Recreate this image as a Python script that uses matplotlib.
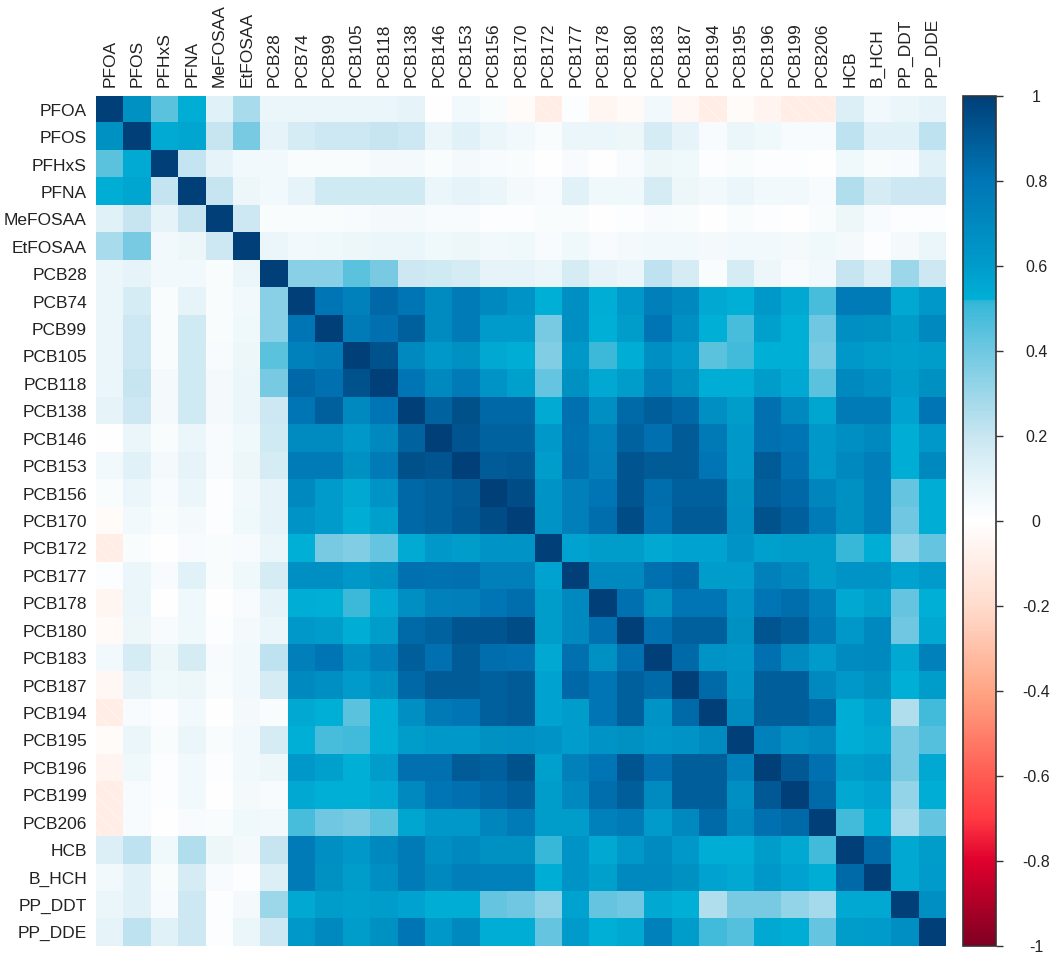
import numpy as np
import matplotlib
matplotlib.use('Agg')
import matplotlib.pyplot as plt
from matplotlib.colors import LinearSegmentedColormap
from matplotlib.patches import Rectangle

plt.rcParams['font.family'] = ['Liberation Sans', 'DejaVu Sans']
plt.rcParams['hatch.linewidth'] = 0.5

labels = ['PFOA', 'PFOS', 'PFHxS', 'PFNA', 'MeFOSAA', 'EtFOSAA', 'PCB28', 'PCB74', 'PCB99',
          'PCB105', 'PCB118', 'PCB138', 'PCB146', 'PCB153', 'PCB156', 'PCB170', 'PCB172',
          'PCB177', 'PCB178', 'PCB180', 'PCB183', 'PCB187', 'PCB194', 'PCB195', 'PCB196',
          'PCB199', 'PCB206', 'HCB', 'B_HCH', 'PP_DDT', 'PP_DDE']

# upper triangle, one row per compound (diagonal left out)
pfoa = [.66, .44, .53, .12, .27, .08, .08, .08, .08, .08, .10, .00, .05, .02, -.02, -.10, .01, -.05, -.03, .05, -.04, -.10, -.02, -.06, -.10, -.10, .13, .05, .08, .10]
pfos = [.54, .56, .20, .38, .10, .15, .18, .18, .20, .18, .08, .12, .08, .05, .02, .08, .08, .07, .15, .10, .03, .08, .06, .03, .03, .22, .12, .12, .22]
pfhxs = [.21, .10, .05, .05, .02, .02, .02, .04, .04, .02, .04, .03, .02, .00, .03, .00, .03, .07, .06, .01, .02, .01, .01, .00, .06, .02, .03, .12]
pfna = [.20, .07, .05, .10, .17, .17, .17, .17, .08, .10, .08, .04, .03, .12, .06, .06, .15, .07, .05, .08, .05, .05, .03, .25, .15, .18, .18]
mefosaa = [.18, .02, .02, .02, .03, .04, .04, .03, .03, .01, .01, .02, .02, .00, .01, .03, .02, .00, .02, .01, .00, .02, .07, .03, .01, .01]
etfosaa = [.08, .05, .06, .07, .08, .08, .06, .07, .05, .06, .03, .06, .03, .04, .05, .05, .04, .05, .05, .04, .06, .04, .01, .04, .08]
pcb28 = [.34, .34, .44, .38, .18, .17, .15, .10, .10, .08, .15, .10, .08, .22, .15, .02, .15, .07, .03, .05, .20, .13, .30, .18]
pcb74 = [.80, .74, .85, .80, .69, .77, .70, .64, .52, .67, .53, .62, .75, .70, .55, .52, .62, .55, .48, .77, .77, .55, .62]
pcb99 = [.77, .82, .88, .69, .77, .60, .60, .38, .67, .52, .59, .80, .67, .52, .48, .58, .52, .40, .67, .66, .59, .70]
pcb105 = [.93, .70, .62, .66, .55, .53, .36, .62, .50, .53, .67, .60, .44, .49, .52, .52, .38, .62, .59, .58, .59]
pcb118 = [.80, .70, .77, .64, .58, .42, .66, .55, .59, .74, .66, .53, .53, .59, .55, .44, .70, .67, .59, .66]
pcb138 = [.87, .94, .85, .85, .54, .82, .67, .84, .89, .85, .67, .59, .82, .70, .56, .77, .77, .57, .80]
pcb146 = [.92, .87, .87, .62, .81, .74, .87, .82, .90, .78, .62, .82, .80, .62, .67, .70, .53, .62]
pcb153 = [.90, .91, .59, .82, .75, .92, .90, .90, .80, .62, .90, .82, .62, .70, .75, .53, .70]
pcb156 = [.95, .64, .75, .80, .92, .83, .88, .88, .66, .88, .85, .72, .66, .74, .42, .53]
pcb170 = [.64, .75, .83, .95, .82, .90, .90, .67, .93, .88, .77, .66, .74, .40, .53]
pcb172 = [.57, .59, .59, .55, .57, .57, .64, .58, .59, .59, .51, .53, .33, .42]
pcb177 = [.70, .70, .82, .85, .59, .59, .74, .70, .59, .64, .64, .57, .60]
pcb178 = [.82, .66, .80, .80, .64, .80, .83, .74, .55, .58, .42, .52]
pcb180 = [.82, .88, .88, .66, .92, .89, .77, .62, .70, .40, .55]
pcb183 = [.84, .64, .63, .82, .69, .60, .69, .70, .55, .74]
pcb187 = [.84, .64, .89, .89, .70, .62, .66, .52, .59]
pcb194 = [.69, .89, .89, .84, .53, .57, .25, .49]
pcb195 = [.74, .67, .70, .53, .55, .38, .45]
pcb196 = [.91, .82, .59, .62, .38, .55]
pcb199 = [.84, .55, .57, .32, .53]
pcb206 = [.49, .53, .28, .42]
hcb = [.84, .55, .59]
b_hch = [.55, .60]
pp_ddt = [.67]

rows = [pfoa, pfos, pfhxs, pfna, mefosaa, etfosaa, pcb28, pcb74, pcb99, pcb105, pcb118, pcb138,
        pcb146, pcb153, pcb156, pcb170, pcb172, pcb177, pcb178, pcb180, pcb183, pcb187, pcb194,
        pcb195, pcb196, pcb199, pcb206, hcb, b_hch, pp_ddt]

n = len(labels)
corr = np.eye(n)
for i, r in enumerate(rows):
    corr[i, i + 1:] = r
    corr[i + 1:, i] = r

# colour stops
stops = [(-1, '#7f0022'), (-.8, '#e0002d'), (-.7, '#ff3a42'), (-.6, '#ff5c52'), (-.4, '#ffa584'),
         (-.2, '#ffdccd'), (0, '#ffffff'), (.1, '#e6f4f9'), (.2, '#c8e6f1'), (.4, '#70c8e2'),
         (.5, '#3ebada'), (.518, '#33b7d8'), (.522, '#00b0d6'), (.6, '#009ccb'), (.7, '#008abf'),
         (.8, '#0076b6'), (.9, '#005c98'), (1, '#003f78')]
cmap = LinearSegmentedColormap.from_list('corr', [((v + 1) / 2, c) for v, c in stops], N=512)

W, H = 1050, 955
fig = plt.figure(figsize=(W / 100, H / 100), dpi=100)
ax = fig.add_axes([96 / W, (H - 946) / H, 850 / W, 850 / H])
im = ax.imshow(corr, cmap=cmap, vmin=-1, vmax=1, aspect='auto', interpolation='nearest')

# faint diagonal lines on the negative cells
for i in range(n):
    for j in range(n):
        if corr[i, j] <= -.05:
            ax.add_patch(Rectangle((j - .5, i - .5), 1, 1, fill=False, hatch='\\\\', edgecolor='#ffffff', lw=0, alpha=.6))

ax.xaxis.tick_top()
ax.set_xticks(range(n))
ax.set_xticklabels(labels, rotation=90, fontsize=12.5, color='#222222')
ax.set_yticks(range(n))
ax.set_yticklabels(labels, fontsize=12.5, color='#222222')
ax.tick_params(length=0, pad=6.5)
for s in ax.spines.values():
    s.set_visible(False)

cax = fig.add_axes([963 / W, (H - 946) / H, 33 / W, 850 / H])
cb = fig.colorbar(im, cax=cax)
cb.set_ticks(np.arange(-1, 1.01, .2))
cb.set_ticklabels(['-1', '-0.8', '-0.6', '-0.4', '-0.2', '0', '0.2', '0.4', '0.6', '0.8', '1'])
cb.ax.tick_params(length=5, width=1, labelsize=11.5, pad=24, color='#333333', labelcolor='#222222')
for t in cb.ax.get_yticklabels():
    t.set_ha('center')
cb.outline.set_edgecolor('#333333')
cb.outline.set_linewidth(1.2)

fig.savefig('out.png', dpi=100)
